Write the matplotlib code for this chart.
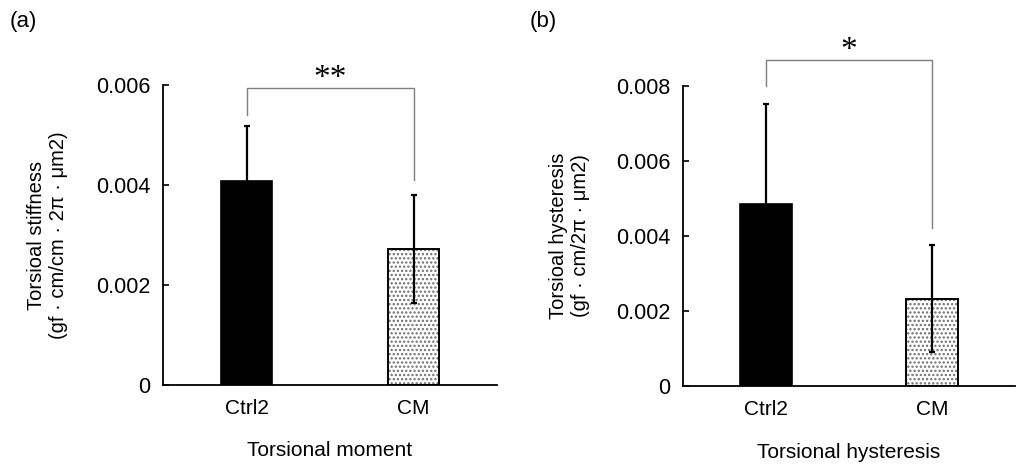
import matplotlib
matplotlib.use("Agg")
import matplotlib.pyplot as plt

plt.rcParams["font.family"] = ["Liberation Sans", "DejaVu Sans"]
plt.rcParams["hatch.linewidth"] = 1.1

# Data
groups = ["Ctrl2", "CM"]

stiff_mean = [0.00407, 0.00272]
stiff_err = [0.00110, 0.00108]
stiff_ticks = [0, 0.002, 0.004, 0.006]
stiff_ticklabels = ["0", "0.002", "0.004", "0.006"]
stiff_bracket = [0.00594, 0.0054, 0.0041]   # top, left leg end, right leg end

hyst_mean = [0.00485, 0.00233]
hyst_err = [0.00267, 0.00143]
hyst_ticks = [0, 0.002, 0.004, 0.006, 0.008]
hyst_ticklabels = ["0", "0.002", "0.004", "0.006", "0.008"]
hyst_bracket = [0.00869, 0.0080, 0.00421]

W, H = 1027, 474
fig = plt.figure(figsize=(W / 100, H / 100), dpi=100)
ax_a = fig.add_axes([163 / W, (H - 385) / H, 334 / W, 300 / H])
ax_b = fig.add_axes([683 / W, (H - 386) / H, 332 / W, 300 / H])


def draw_panel(ax, means, errs, ticks, ticklabels, bracket, stars, ylabel, xlabel, ymax):
    x = range(len(groups))
    bw = 0.31
    # black control bar
    ax.bar(0, means[0], width=bw, color="black", edgecolor="black", linewidth=1.2, zorder=2)
    # dotted CM bar: hatch in grey, then outline in black
    ax.bar(1, means[1], width=bw, color="white", edgecolor="#6e6e6e", hatch="....",
           linewidth=0, zorder=2)
    ax.bar(1, means[1], width=bw, fill=False, edgecolor="black", linewidth=1.4, zorder=3)
    ax.errorbar(list(x), means, yerr=errs, fmt="none", ecolor="black", elinewidth=1.6,
                capsize=2.2, capthick=1.6, zorder=4)

    # significance bracket
    top, lft, rgt = bracket
    ax.plot([0, 0, 1, 1], [lft, top, top, rgt], color="#7f7f7f", linewidth=1.0,
            clip_on=False, zorder=1)
    ax.text(0.5, top + ymax * 0.004, stars, ha="center", va="baseline", fontsize=24,
            family="Liberation Serif", clip_on=False)

    ax.set_xlim(-0.5, 1.5)
    ax.set_ylim(0, ymax)
    ax.set_xticks(list(x))
    ax.set_xticklabels(groups)
    ax.set_yticks(ticks)
    ax.set_yticklabels(ticklabels)
    ax.tick_params(axis="x", length=0, pad=10, labelsize=15)
    ax.tick_params(axis="y", direction="in", length=4, width=1.2, pad=9, labelsize=15.5)
    for s in ("top", "right"):
        ax.spines[s].set_visible(False)
    for s in ("left", "bottom"):
        ax.spines[s].set_linewidth(1.3)
        ax.spines[s].set_color("black")
    ax.set_xlabel(xlabel, fontsize=15, labelpad=17)
    ax.set_ylabel(ylabel, fontsize=14.5, linespacing=1.2)


draw_panel(ax_a, stiff_mean, stiff_err, stiff_ticks, stiff_ticklabels, stiff_bracket, "**",
           "Torsioal stiffness\n(gf · cm/cm · 2π · μm2)", "Torsional moment", 0.006)
draw_panel(ax_b, hyst_mean, hyst_err, hyst_ticks, hyst_ticklabels, hyst_bracket, "*",
           "Torsioal hysteresis\n(gf · cm/2π · μm2)", "Torsional hysteresis", 0.008)

ax_a.yaxis.set_label_coords(-0.285, 0.5)
ax_b.yaxis.set_label_coords(-0.28, 0.5)

fig.text(10 / W, 1 - 22 / H, "(a)", fontsize=16, va="center", ha="left")
fig.text(530 / W, 1 - 22 / H, "(b)", fontsize=16, va="center", ha="left")

fig.savefig("out.png", dpi=100, facecolor="white")
